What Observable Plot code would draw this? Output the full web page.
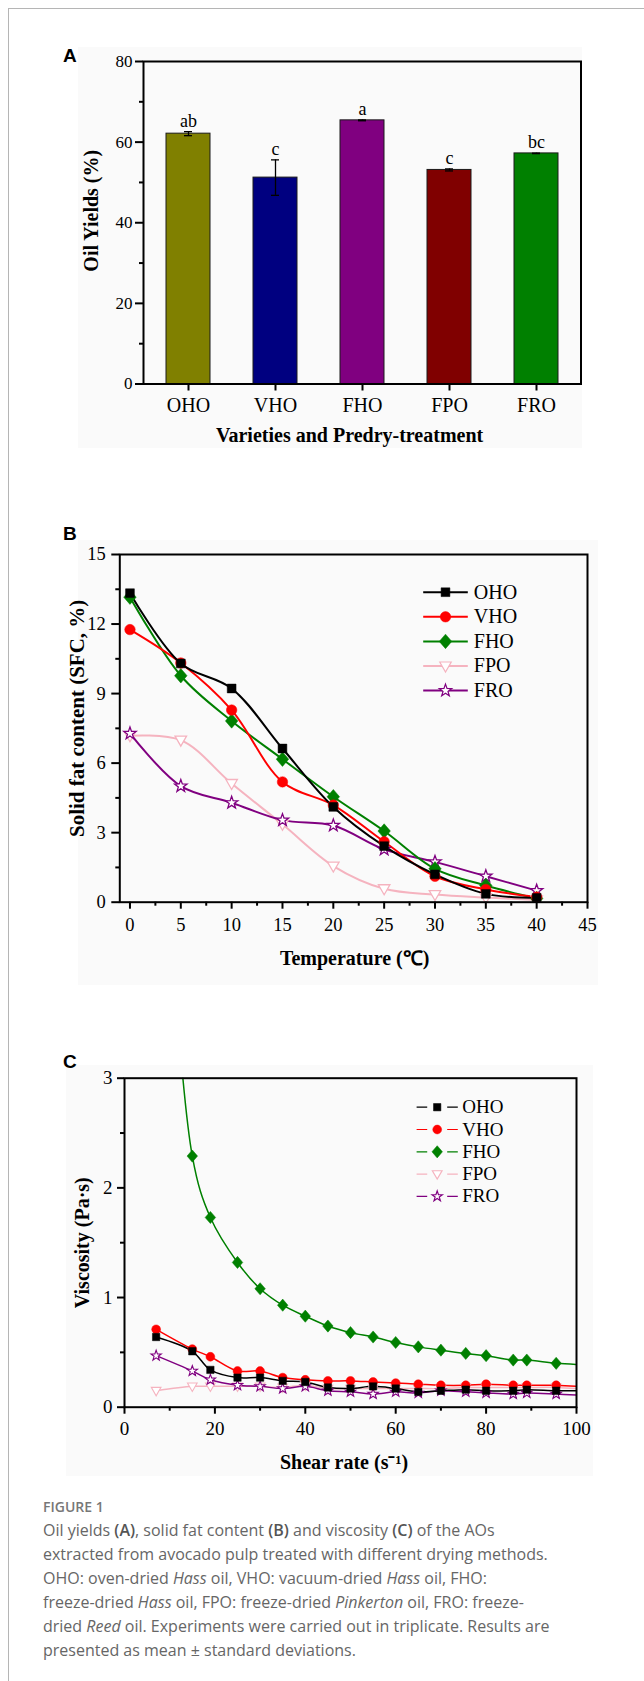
<!DOCTYPE html>
<html>
<head>
<meta charset="utf-8">
<script src="https://cdn.jsdelivr.net/npm/d3@7"></script>
<script src="https://cdn.jsdelivr.net/npm/@observablehq/plot@0.6"></script>
<style>
html, body { margin: 0; padding: 0; background: #fff; overflow: hidden; }
#page { position: relative; width: 644px; height: 1681px; }
.border { position: absolute; left: 8px; top: 8px; right: 0; bottom: 0; border-left: 1px solid #b5b5b5; border-top: 1px solid #b5b5b5; }
.bg { position: absolute; background: #fafafa; }
.panel { position: absolute; left: 0; }
.letter { position: absolute; font-family: "Liberation Sans", Arial, sans-serif; font-weight: bold; font-size: 19px; line-height: 19px; color: #000; }
.figlabel { position: absolute; left: 43px; top: 1500px; font-family: "Open Sans", sans-serif; font-weight: 600; font-size: 14px; line-height: 14px; color: #777; }
.caption { position: absolute; left: 43px; top: 1518px; font-family: "Open Sans", sans-serif; font-size: 16px; line-height: 24px; color: #666; white-space: nowrap; }
.caption b { font-weight: 600; color: #555; }
</style>
</head>
<body>
<div id="page">
  <div class="border"></div>
  <div class="bg" style="left:78px;top:47px;width:504px;height:401px"></div>
  <div class="bg" style="left:78px;top:540px;width:520px;height:445px"></div>
  <div class="bg" style="left:66px;top:1065px;width:527px;height:411px"></div>
  <div class="letter" style="left:63px;top:46px">A</div>
  <div class="letter" style="left:63px;top:524px">B</div>
  <div class="letter" style="left:63px;top:1052px">C</div>
  <div class="panel" id="panelA" style="top:40px"></div>
  <div class="panel" id="panelB" style="top:530px"></div>
  <div class="panel" id="panelC" style="top:1060px"></div>
  <div class="figlabel">FIGURE 1</div>
  <div class="caption">
    Oil yields <b>(A)</b>, solid fat content <b>(B)</b> and viscosity <b>(C)</b> of the AOs<br>
    extracted from avocado pulp treated with different drying methods.<br>
    OHO: oven-dried <i>Hass</i> oil, VHO: vacuum-dried <i>Hass</i> oil, FHO:<br>
    freeze-dried <i>Hass</i> oil, FPO: freeze-dried <i>Pinkerton</i> oil, FRO: freeze-<br>
    dried <i>Reed</i> oil. Experiments were carried out in triplicate. Results are<br>
    presented as mean ± standard deviations.
  </div>
</div>
<script>
// ---------- Panel A data ----------
const varieties = ["OHO", "VHO", "FHO", "FPO", "FRO"];
const oilYield = [62.1, 51.2, 65.4, 53.1, 57.2];
const oilYieldSD = [0.5, 4.4, 0.1, 0.25, 0.05];
const sigLetters = ["ab", "c", "a", "c", "bc"];
const barColors = ["#808000", "#000080", "#800080", "#800000", "#008000"];
const yTicksA = [0, 20, 40, 60, 80];
const yMinorA = [10, 30, 50, 70];

// ---------- Panel B data ----------
const seriesNames = ["OHO", "VHO", "FHO", "FPO", "FRO"];
const seriesColors = ["#000000", "#ff0000", "#008000", "#f5b3bf", "#800080"];
const temperature = [0, 5, 10, 15, 20, 25, 30, 35, 40];
const sfcOHO = [13.33, 10.3, 9.22, 6.63, 4.11, 2.42, 1.2, 0.36, 0.19];
const sfcVHO = [11.76, 10.32, 8.29, 5.19, 4.19, 2.61, 1.12, 0.55, 0.22];
const sfcFHO = [13.16, 9.77, 7.82, 6.17, 4.55, 3.07, 1.44, 0.72, 0.16];
const sfcFPO = [7.18, 6.99, 5.12, 3.36, 1.56, 0.58, 0.33, 0.2, 0.1];
const sfcFRO = [7.28, 5.01, 4.29, 3.54, 3.31, 2.28, 1.74, 1.12, 0.5];
const xTicksB = [0, 5, 10, 15, 20, 25, 30, 35, 40, 45];
const xMinorB = [2.5, 7.5, 12.5, 17.5, 22.5, 27.5, 32.5, 37.5, 42.5];
const yTicksB = [0, 3, 6, 9, 12, 15];
const yMinorB = [1.5, 4.5, 7.5, 10.5, 13.5];

// ---------- Panel C data ----------
const shearRate = [7, 15, 19, 25, 30, 35, 40, 45, 50, 55, 60, 65, 70, 75.5, 80, 86, 89, 95.5];
const viscOHO = [0.64, 0.51, 0.34, 0.27, 0.27, 0.24, 0.23, 0.18, 0.17, 0.19, 0.17, 0.14, 0.15, 0.16, 0.15, 0.15, 0.16, 0.15];
const viscVHO = [0.71, 0.53, 0.46, 0.33, 0.33, 0.27, 0.25, 0.24, 0.24, 0.23, 0.22, 0.21, 0.20, 0.20, 0.21, 0.20, 0.20, 0.20];
const viscFHO = [6.5, 2.29, 1.73, 1.32, 1.08, 0.93, 0.83, 0.74, 0.68, 0.64, 0.59, 0.55, 0.52, 0.49, 0.47, 0.43, 0.43, 0.40];
const viscFPO = [0.15, 0.19, 0.19, 0.19, 0.19, 0.18, 0.20, 0.17, 0.17, 0.17, 0.17, 0.17, 0.17, 0.18, 0.18, 0.18, 0.18, 0.18];
const viscFRO = [0.47, 0.33, 0.25, 0.20, 0.19, 0.17, 0.19, 0.15, 0.14, 0.12, 0.14, 0.13, 0.15, 0.14, 0.13, 0.12, 0.13, 0.12];
const lineEndShear = 100;
const viscLineEnd = [0.15, 0.19, 0.39, 0.17, 0.11];
const xTicksC = [0, 20, 40, 60, 80, 100];
const xMinorC = [10, 30, 50, 70, 90];
const yTicksC = [0, 1, 2, 3];
const yMinorC = [0.5, 1.5, 2.5];

// ---------- symbols ----------
const K = s => Math.sqrt(s / Math.PI);
const symSquare = {draw(c, s) { const k = K(s) * 0.88; c.rect(-k, -k, 2 * k, 2 * k); }};
const symCircle = {draw(c, s) { const k = K(s) * 1.05; c.moveTo(k, 0); c.arc(0, 0, k, 0, 2 * Math.PI); }};
const symDiamond = {draw(c, s) { const k = K(s), w = 1.25 * k, h = 1.45 * k; c.moveTo(0, -h); c.lineTo(w, 0); c.lineTo(0, h); c.lineTo(-w, 0); c.closePath(); }};
const symTriDown = {draw(c, s) { const k = K(s); c.moveTo(-1.15 * k, -0.8 * k); c.lineTo(1.15 * k, -0.8 * k); c.lineTo(0, 1.2 * k); c.closePath(); }};
const symStar = {draw(c, s) { const k = K(s), R = 1.3 * k, r = 0.52 * k;
  for (let i = 0; i < 10; i++) { const a = -Math.PI / 2 + i * Math.PI / 5, rr = i % 2 ? r : R;
    const px = rr * Math.cos(a), py = rr * Math.sin(a); if (i) c.lineTo(px, py); else c.moveTo(px, py); }
  c.closePath(); }};
const symSeg = {draw(c, s) { const k = K(s); c.moveTo(-k, 0); c.lineTo(k, 0); }};
const symSegGap = {draw(c, s) { const k = K(s); c.moveTo(-k, 0); c.lineTo(-0.485 * k, 0); c.moveTo(0.485 * k, 0); c.lineTo(k, 0); }};
const seriesSymbols = [symSquare, symCircle, symDiamond, symTriDown, symStar];
const seriesHollow = [false, false, false, true, true];
const drawOrder = [3, 4, 2, 1, 0];

const svgStyle = {fontFamily: '"Liberation Serif", "Times New Roman", serif', color: "black", background: "transparent", overflow: "visible"};

function yTitle(label, dx, dy, fontSize) {
  return Plot.text([label], {text: d => d, frameAnchor: "left", dx, dy, rotate: -90, textAnchor: "middle", lineAnchor: "middle", fontSize, fontWeight: "bold"});
}
function xTitle(label, dx, dy, fontSize) {
  return Plot.text([label], {text: d => d, frameAnchor: "bottom", dx, dy, textAnchor: "middle", lineAnchor: "middle", fontSize, fontWeight: "bold"});
}

// ---------- Panel A ----------
const rowsA = varieties.map((v, i) => ({variety: v, value: oilYield[i], sd: oilYieldSD[i], letter: sigLetters[i]}));
const plotA = Plot.plot({
  width: 644, height: 420,
  marginLeft: 143, marginRight: 63.5, marginTop: 21, marginBottom: 76.5,
  style: svgStyle,
  x: {domain: varieties, paddingInner: 0.5, paddingOuter: 0.25, label: null},
  y: {domain: [0, 80], label: null},
  color: {domain: varieties, range: barColors},
  marks: [
    Plot.barY(rowsA, {x: "variety", y: "value", fill: "variety", stroke: "#1a1a1a", strokeWidth: 1}),
    Plot.ruleX(rowsA, {x: "variety", y1: d => d.value - d.sd, y2: d => d.value + d.sd, stroke: "black", strokeWidth: 1.3}),
    Plot.tickY(rowsA, {x: "variety", y: d => d.value + d.sd, insetLeft: 18, insetRight: 18, stroke: "black", strokeWidth: 1.3}),
    Plot.tickY(rowsA, {x: "variety", y: d => d.value - d.sd, insetLeft: 18, insetRight: 18, stroke: "black", strokeWidth: 1.3}),
    Plot.text(rowsA, {x: "variety", y: d => d.value + d.sd, text: "letter", dy: -5, lineAnchor: "bottom", fontSize: 18}),
    Plot.frame({stroke: "black", strokeWidth: 2}),
    Plot.axisX({tickSize: 7, tickPadding: 7, fontSize: 20, strokeWidth: 2, label: null}),
    Plot.axisY({ticks: yTicksA, tickSize: 8, tickPadding: 3, fontSize: 17, strokeWidth: 2, label: null}),
    Plot.axisY({ticks: yMinorA, tickSize: 4, fill: "none", strokeWidth: 2, label: null}),
    xTitle("Varieties and Predry-treatment", -12.7, 52, 20),
    yTitle("Oil Yields (%)", -51.5, -12, 20)
  ]
});
document.getElementById("panelA").append(plotA);

// ---------- helpers for line panels ----------
function seriesMarks(rows, r, strokeW) {
  return drawOrder.map(i => Plot.dot(rows.filter(d => d.series === seriesNames[i]), {
    x: "x", y: "y", symbol: seriesSymbols[i], r,
    fill: seriesHollow[i] ? "white" : seriesColors[i],
    stroke: seriesColors[i], strokeWidth: seriesHollow[i] ? strokeW : 0.5, clip: true
  }));
}
function legendMarks(opt) {
  const out = [];
  seriesNames.forEach((s, i) => {
    const dy = opt.top + i * opt.step;
    out.push(Plot.dot([s], {frameAnchor: "top-left", dx: opt.cx, dy, symbol: opt.seg, r: opt.segHalf, fill: "none", stroke: seriesColors[i], strokeWidth: opt.lineW}));
    out.push(Plot.dot([s], {frameAnchor: "top-left", dx: opt.cx, dy, symbol: seriesSymbols[i], r: opt.r,
      fill: seriesHollow[i] ? "white" : seriesColors[i], stroke: seriesColors[i], strokeWidth: seriesHollow[i] ? 1.2 : 0.5}));
    out.push(Plot.text([s], {text: d => d, frameAnchor: "top-left", dx: opt.tx, dy, textAnchor: "start", lineAnchor: "middle", fontSize: opt.fontSize}));
  });
  return out;
}

// ---------- Panel B ----------
const sfcValues = [sfcOHO, sfcVHO, sfcFHO, sfcFPO, sfcFRO];
const rowsB = seriesNames.flatMap((s, i) => temperature.map((t, j) => ({series: s, x: t, y: sfcValues[i][j]})));
const plotB = Plot.plot({
  width: 644, height: 460,
  marginLeft: 119.3, marginRight: 57, marginTop: 24, marginBottom: 88.3,
  style: svgStyle,
  x: {domain: [-1, 45], label: null},
  y: {domain: [0, 15], label: null},
  color: {domain: seriesNames, range: seriesColors},
  marks: [
    ...drawOrder.map(i => Plot.line(rowsB.filter(d => d.series === seriesNames[i]), {x: "x", y: "y", stroke: "series", strokeWidth: 2, curve: "catmull-rom"})),
    ...seriesMarks(rowsB, 5, 1.3),
    Plot.frame({stroke: "black", strokeWidth: 2}),
    Plot.axisX({ticks: xTicksB, tickSize: 7, tickPadding: 9, fontSize: 18.5, strokeWidth: 2, label: null}),
    Plot.axisX({ticks: xMinorB, tickSize: 4, fill: "none", strokeWidth: 2, label: null}),
    Plot.axisY({ticks: yTicksB, tickSize: 8, tickPadding: 6, fontSize: 18.5, strokeWidth: 2, label: null}),
    Plot.axisY({ticks: yMinorB, tickSize: 4, fill: "none", strokeWidth: 2, label: null}),
    ...legendMarks({top: 37.7, step: 24.6, cx: 325.7, segHalf: 22.3, seg: symSeg, lineW: 2, r: 5, tx: 354, fontSize: 20}),
    xTitle("Temperature (℃)", 1, 56.6, 20),
    yTitle("Solid fat content (SFC, %)", -42.3, -10, 21)
  ]
});
document.getElementById("panelB").append(plotB);

// ---------- Panel C ----------
const viscValues = [viscOHO, viscVHO, viscFHO, viscFPO, viscFRO];
const rowsC = seriesNames.flatMap((s, i) => shearRate.map((x, j) => ({series: s, x, y: viscValues[i][j]})));
const lineRowsC = seriesNames.flatMap((s, i) => [...shearRate.map((x, j) => ({series: s, x, y: viscValues[i][j]})), {series: s, x: lineEndShear, y: viscLineEnd[i]}]);
const plotC = Plot.plot({
  width: 644, height: 425,
  marginLeft: 124, marginRight: 68, marginTop: 17.7, marginBottom: 78.3,
  style: svgStyle,
  x: {domain: [0, 100], label: null},
  y: {domain: [0, 3], label: null},
  color: {domain: seriesNames, range: seriesColors},
  marks: [
    ...drawOrder.map(i => Plot.line(lineRowsC.filter(d => d.series === seriesNames[i]), {x: "x", y: "y", stroke: "series", strokeWidth: 1.5, curve: "catmull-rom", clip: true})),
    ...seriesMarks(rowsC, 4.2, 1.1),
    Plot.frame({stroke: "black", strokeWidth: 2}),
    Plot.axisX({ticks: xTicksC, tickSize: 7, tickPadding: 7, fontSize: 19, strokeWidth: 2, label: null}),
    Plot.axisX({ticks: xMinorC, tickSize: 4, fill: "none", strokeWidth: 2, label: null}),
    Plot.axisY({ticks: yTicksC, tickFormat: d3.format("d"), tickSize: 7, tickPadding: 5, fontSize: 19, strokeWidth: 2, label: null}),
    Plot.axisY({ticks: yMinorC, tickSize: 4, fill: "none", strokeWidth: 2, label: null}),
    ...legendMarks({top: 29, step: 22.3, cx: 312.7, segHalf: 20.6, seg: symSegGap, lineW: 1.2, r: 4.2, tx: 337.7, fontSize: 19}),
    xTitle("Shear rate (s⁻¹)", -6.5, 55, 20),
    yTitle("Viscosity (Pa·s)", -42, 0, 20)
  ]
});
document.getElementById("panelC").append(plotC);
</script>
</body>
</html>
